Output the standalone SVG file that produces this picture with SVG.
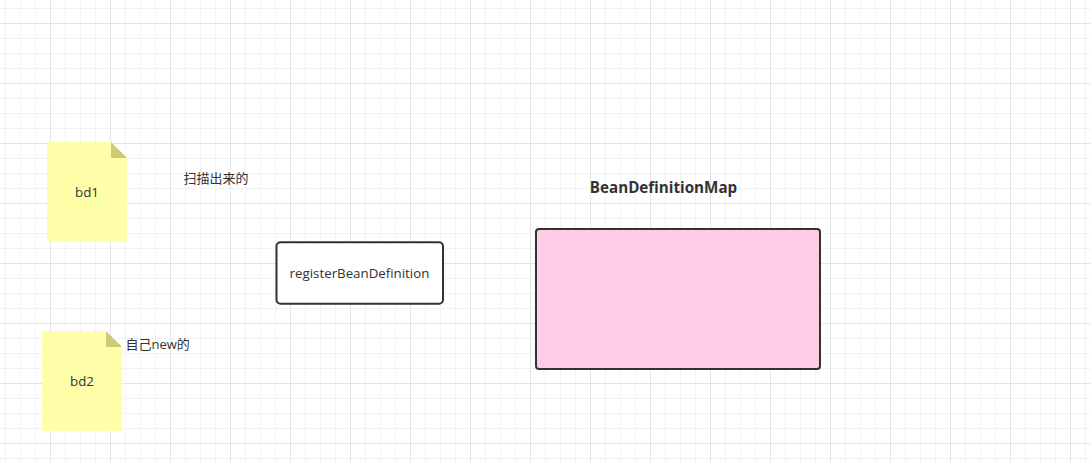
<svg xmlns="http://www.w3.org/2000/svg" width="1091" height="462" viewBox="0 0 1091 462">
<style>
.t{font-family:"Open Sans","Noto Sans CJK SC",sans-serif;font-size:13.300px;fill:#323232}
.c{text-anchor:middle}
.z{font-size:13px}
.note{fill:#ffffaa}
.fold{fill:#cccc77}
.box{stroke:#323232;stroke-width:2}
</style>
<defs>
<pattern id="minor" width="15" height="15" patternUnits="userSpaceOnUse" x="5" y="8"><path d="M.5 0V15M0 .5H15" fill="none" stroke="#f2f2f2" stroke-width="1"/></pattern>
<pattern id="major" width="60" height="60" patternUnits="userSpaceOnUse" x="50" y="23"><path d="M.5 0V60M0 .5H60" fill="none" stroke="#e4e4e4" stroke-width="1"/></pattern>
</defs>
<rect width="1091" height="462" fill="#fff"/>
<rect width="1091" height="462" fill="url(#minor)"/>
<rect width="1091" height="462" fill="url(#major)"/>
<g id="connectors"/>
<g id="bd1">
<path class="note" d="M47 142H111L127 158V241.500H47Z"/>
<path class="fold" d="M111 142L127 158H111Z"/>
<text class="t c" x="87" y="197">bd1</text>
</g>
<g id="bd2">
<path class="note" d="M42 331H106L122 347V431H42Z"/>
<path class="fold" d="M106 331L122 347H106Z"/>
<text class="t c" x="82" y="386">bd2</text>
</g>
<g id="label-scan"><text class="t z" x="183.500" y="182.500">扫描出来的</text></g>
<g id="label-new"><text class="t z" x="125.500" y="349">自己new的</text></g>
<g id="registerBeanDefinition">
<rect class="box" x="276.500" y="242.300" width="166.500" height="61.500" rx="4" fill="#fff"/>
<text class="t c" x="359.500" y="278">registerBeanDefinition</text>
</g>
<g id="BeanDefinitionMap">
<text x="663.500" y="193" text-anchor="middle" style="font-family:'Open Sans',sans-serif;font-size:15.200px;font-weight:700;fill:#323232">BeanDefinitionMap</text>
<rect class="box" x="536" y="229" width="284" height="140" rx="3" fill="#ffcce6"/>
</g>
</svg>
